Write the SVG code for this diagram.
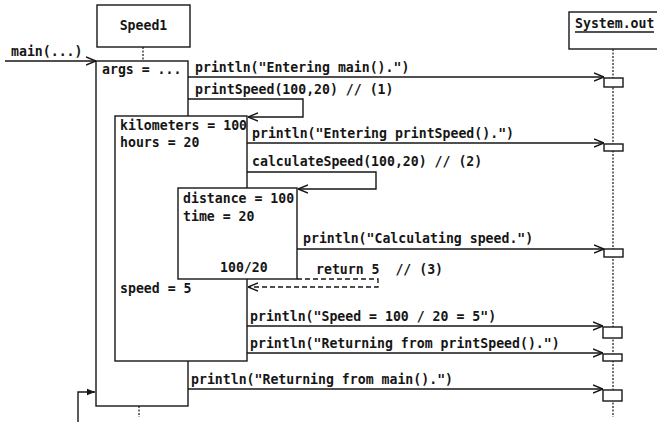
<svg xmlns="http://www.w3.org/2000/svg" width="657" height="422" viewBox="0 0 657 422">
  <style>
    .t { font-family: "DejaVu Sans Mono", "Liberation Mono", monospace; font-size: 13.2px; font-weight: bold; fill: #161616; }
    .box { fill: #fff; stroke: #161616; stroke-width: 1.4; }
    .ln { fill: none; stroke: #161616; stroke-width: 1.4; }
    .life { fill: none; stroke: #161616; stroke-width: 1.2; stroke-dasharray: 2,1.5; }
    .dash { fill: none; stroke: #161616; stroke-width: 1.3; stroke-dasharray: 5,3; }
  </style>
  <defs>
    <marker id="open" viewBox="0 0 10 10" refX="10" refY="5" markerWidth="10" markerHeight="10" markerUnits="userSpaceOnUse" orient="auto">
      <path d="M0,1 L10,5 L0,9" fill="none" stroke="#161616" stroke-width="1.4"/>
    </marker>
    <marker id="solid" viewBox="0 0 10 10" refX="10" refY="5" markerWidth="8" markerHeight="8" markerUnits="userSpaceOnUse" orient="auto">
      <path d="M0,1 L10,5 L0,9 Z" fill="#161616"/>
    </marker>
  </defs>

  <rect width="657" height="422" fill="#fff"/>

  <!-- lifelines -->
  <g id="lifelines">
    <line class="life" x1="143" y1="47" x2="143" y2="61"/>
    <line class="life" x1="139" y1="406" x2="139" y2="417"/>
    <line class="life" x1="613" y1="49" x2="613" y2="417"/>
  </g>

  <!-- object headers -->
  <g id="speed1">
    <rect class="box" x="97" y="5" width="93" height="42"/>
    <text class="t" x="143.5" y="30" text-anchor="middle">Speed1</text>
  </g>
  <g id="system-out">
    <rect class="box" x="569" y="12" width="95" height="37"/>
    <text class="t" x="575" y="28">System.out</text>
    <line class="ln" x1="575" y1="32" x2="654" y2="32" stroke-width="1.2"/>
  </g>

  <!-- activation frames of Speed1 -->
  <g id="main-frame">
    <rect class="box" x="96" y="61" width="92" height="345"/>
    <text class="t" x="102" y="74">args = ...</text>
  </g>
  <g id="printSpeed-frame">
    <rect class="box" x="115" y="116" width="132" height="245"/>
    <text class="t" x="120" y="130">kilometers = 100</text>
    <text class="t" x="120" y="147">hours = 20</text>
    <text class="t" x="120" y="293">speed = 5</text>
  </g>
  <g id="calculateSpeed-frame">
    <rect class="box" x="178" y="188" width="119" height="91"/>
    <text class="t" x="183" y="203">distance = 100</text>
    <text class="t" x="183" y="221">time = 20</text>
    <text class="t" x="220" y="272">100/20</text>
  </g>

  <!-- activations of System.out -->
  <g id="out-activations">
    <rect class="box" x="604" y="78" width="19" height="9"/>
    <rect class="box" x="604" y="144" width="19" height="7"/>
    <rect class="box" x="604" y="249" width="19" height="8"/>
    <rect class="box" x="603" y="327" width="19" height="11"/>
    <rect class="box" x="603" y="354" width="19" height="7"/>
    <rect class="box" x="603" y="390" width="19" height="11"/>
  </g>

  <!-- messages -->
  <g id="connectors">
    <line class="ln" x1="5" y1="61" x2="96" y2="61" marker-end="url(#open)"/>
    <line class="ln" x1="188" y1="77" x2="604" y2="77" marker-end="url(#open)"/>
    <path class="ln" d="M188,99 H303 V117 H248" marker-end="url(#open)"/>
    <line class="ln" x1="247" y1="143" x2="604" y2="143" marker-end="url(#open)"/>
    <path class="ln" d="M247,172 H376 V189 H298" marker-end="url(#open)"/>
    <line class="ln" x1="297" y1="249" x2="604" y2="249" marker-end="url(#open)"/>
    <path class="dash" d="M297,279 H378 V287 H248" marker-end="url(#open)"/>
    <line class="ln" x1="247" y1="326" x2="603" y2="326" marker-end="url(#open)"/>
    <line class="ln" x1="247" y1="353" x2="603" y2="353" marker-end="url(#open)"/>
    <line class="ln" x1="188" y1="389" x2="603" y2="389" marker-end="url(#open)"/>
    <path class="ln" d="M78,422 V392 H95" marker-end="url(#solid)"/>
  </g>

  <!-- message labels -->
  <g id="labels">
    <text class="t" x="11" y="56">main(...)</text>
    <text class="t" x="195" y="72">println("Entering main().")</text>
    <text class="t" x="195" y="94">printSpeed(100,20) // (1)</text>
    <text class="t" x="252" y="138">println("Entering printSpeed().")</text>
    <text class="t" x="252" y="166">calculateSpeed(100,20) // (2)</text>
    <text class="t" x="303" y="243">println("Calculating speed.")</text>
    <text class="t" x="316" y="274" xml:space="preserve">return 5  // (3)</text>
    <text class="t" x="250" y="321">println("Speed = 100 / 20 = 5")</text>
    <text class="t" x="250" y="348">println("Returning from printSpeed().")</text>
    <text class="t" x="191" y="384">println("Returning from main().")</text>
  </g>
</svg>
